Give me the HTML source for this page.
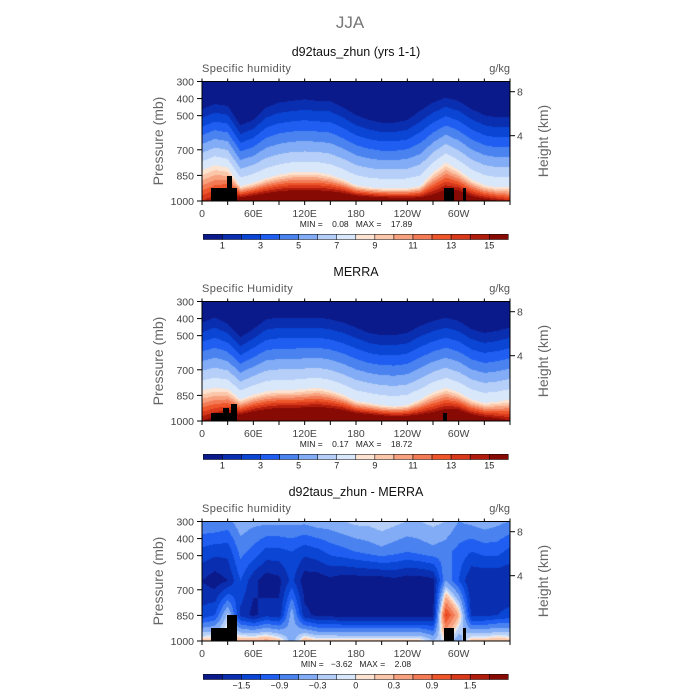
<!DOCTYPE html>
<html><head><meta charset="utf-8"><style>
body{margin:0;background:#fff;width:700px;height:700px;overflow:hidden;position:relative;font-family:"Liberation Sans",sans-serif}
canvas{position:absolute;left:202px;width:308px;height:120px}
svg{position:absolute;left:0;top:0}
</style></head><body>
<canvas id="c0" width="308" height="120" style="top:81px"></canvas>
<canvas id="c1" width="308" height="120" style="top:301px"></canvas>
<canvas id="c2" width="308" height="120" style="top:521px"></canvas>
<svg id="ov" width="700" height="700"></svg>
<script>
// ---- data ----
const lons = [0,15,30,45,60,75,90,105,120,135,150,165,180,195,210,225,240,255,270,285,300,315,330,345,360];
// Panel 1 (model): pressure of 1 g/kg contour, pressure of 8 g/kg contour, surface value
const m_p1 = [465,435,446,559,528,455,426,417,407,417,417,455,500,528,544,544,528,475,426,397,417,465,500,513,513];
const m_p8 = [822,792,808,916,897,869,849,835,835,835,849,876,910,922,928,928,928,916,835,777,822,876,910,922,922];
const m_qs = [14,15,16,17,18,18.5,19,19,19,19,19,19,18.5,18,17.5,17,17,17,17,18,18.5,17,16,15,14];
// Panel 2 (MERRA)
const r_p1 = [426,397,435,513,465,407,397,397,397,397,407,426,455,487,500,500,487,446,417,397,417,465,487,475,455];
const r_p8 = [822,808,815,876,849,829,822,822,815,808,822,849,885,897,910,916,910,876,835,808,835,876,897,890,876];
const r_qs = [15,16,17,18,19,19.5,20,20,20,20,20,20,19.5,19,18.5,18,18,18,18,19,19.5,18,17,16,15];
// Panel 3 (difference) values at 300, 480, 650, 850, 1000 mb
const d_top = [-0.6,-0.6,-0.7,-0.4,-0.5,-0.5,-0.5,-0.5,-0.5,-0.4,-0.4,-0.3,-0.2,-0.2,-0.1,-0.2,-0.3,-0.3,-0.2,-0.3,-0.6,-0.5,-0.4,-0.5,-0.6];
const d_up  = [-1.3,-1.4,-1.4,-0.8,-1.0,-1.3,-1.3,-1.2,-1.4,-1.3,-1.1,-1.0,-0.9,-0.8,-0.7,-0.8,-0.9,-0.8,-0.7,-0.8,-1.0,-1.2,-1.1,-1.1,-1.3];
const d_mid = [-1.8,-2.0,-1.8,-1.2,-1.7,-2.0,-1.9,-1.4,-2.0,-2.0,-1.9,-2.0,-2.0,-2.0,-2.0,-1.9,-2.0,-2.0,-1.9,-0.6,-1.2,-1.8,-1.8,-1.8,-1.8];
const d_low = [-1.4,-1.2,-0.2,-1.6,-1.9,-1.6,-1.7,-0.4,-1.7,-1.9,-1.9,-2.0,-2.0,-2.0,-2.0,-2.0,-2.0,-2.0,-1.9,1.3,0.3,-1.6,-1.6,-1.5,-1.4];
const d_srf = [0.2,0.2,0.3,0.3,0.3,0.4,0.2,-0.5,0.3,0.1,0.1,0.1,0.1,0.1,0.1,0.1,0.1,0.1,-0.3,0.0,-0.5,0.2,0.2,0.3,0.2];
const levelsQ = [0,1,2,3,4,5,6,7,8,9,10,11,12,13,14,15,16];
const levelsD = [-2.1,-1.8,-1.5,-1.2,-0.9,-0.6,-0.3,-0.1,0,0.1,0.3,0.6,0.9,1.2,1.5,1.8,2.1];
const labelsQ = ["1","3","5","7","9","11","13","15"];
const labelsD = ["\u22121.5","\u22120.9","\u22120.3","0","0.3","0.9","1.5"];
const presTicks = [300,400,500,700,850,1000];
const lonLabels = ["0","60E","120E","180","120W","60W"];
const palette = ["#0b1a8a","#0a2eb0","#0a45d4","#1f5ef0","#4a82f0","#82acf5","#b6cff8","#d9e7fb","#fde4d2","#fbc7aa","#f7a17f","#f27b55","#ee552b","#d8391a","#b01d0c","#880a05"];

const H=119.5;
function lerpArr(a,lon){const f=lon/15,i=Math.min(23,Math.floor(f)),t=f-i;return a[i]*(1-t)+a[i+1]*t;}
const yToP=y=>300+y/H*700;
const pToY=p=>(p-300)/700*H;
function colIdx(v,lev){let k=0;for(let i=1;i<16;i++)if(v>=lev[i])k=i;return k;}
function qField(p1a,p8a,qsa,lon,p){
  const p1=lerpArr(p1a,lon),p8=lerpArr(p8a,lon),qs=lerpArr(qsa,lon);
  if(p<=p1) return 0.5+0.5*(p-300)/Math.max(1,p1-300);
  if(p<=p8) return 1+7*(p-p1)/(p8-p1);
  return 8+(qs-8)*(p-p8)/(1000-p8);
}
function dField(lon,p){
  const a=[lerpArr(d_top,lon),lerpArr(d_up,lon),lerpArr(d_mid,lon),lerpArr(d_low,lon),lerpArr(d_srf,lon)];
  const ps=[300,480,650,850,1000];
  for(let i=0;i<4;i++){if(p<=ps[i+1]){const t=(p-ps[i])/(ps[i+1]-ps[i]);return a[i]*(1-t)+a[i+1]*t;}}
  return a[4];
}
function draw(id,fn,lev){
  const ctx=document.getElementById(id).getContext('2d');
  for(let x=0;x<308;x++){const lon=(x+0.5)/308*360;
    for(let y=0;y<120;y++){const p=yToP(Math.min(H,y+0.5));
      ctx.fillStyle=palette[colIdx(fn(lon,p),lev)];ctx.fillRect(x,y,1,1);}}
}
draw('c0',(l,p)=>qField(m_p1,m_p8,m_qs,l,p),levelsQ);
draw('c1',(l,p)=>qField(r_p1,r_p8,r_qs,l,p),levelsQ);
draw('c2',dField,levelsD);

// ---- overlay ----
const NS="http://www.w3.org/2000/svg",ov=document.getElementById('ov');
function el(tag,at,txt){const e=document.createElementNS(NS,tag);for(const k in at)e.setAttribute(k,at[k]);if(txt!=null)e.textContent=txt;ov.appendChild(e);return e;}
const x0=202,W=308;
const lonX=l=>x0+l/360*W;
let t=el('text',{x:350,y:28,'text-anchor':'middle','font-size':17,fill:'#777'},'JJA');


const titles=["d92taus_zhun (yrs 1-1)","MERRA","d92taus_zhun - MERRA"];
const subs=["Specific humidity","Specific Humidity","Specific humidity"];
const mm=["MIN =    0.08   MAX =    17.89","MIN =    0.17   MAX =    18.72","MIN =   \u22123.62   MAX =    2.08"];
const topo=[
 [[211,188,26,13],[227,176,5,13],[444,188,10,13],[463,188,3,13]],
 [[211,193,26,8],[223,188,6,6],[231,184,6,10],[443,193,4,8]],
 [[211,188,21,13],[227,175,10,26],[444,188,10,13],[463,188,3,13]]];
for(let k=0;k<3;k++){
  const oy=k*220,top=81.5+oy,bot=201+oy;
  t=el('text',{x:356,y:56+oy,'text-anchor':'middle','font-size':12.5,fill:'#111'},titles[k]);
  
  
  t=el('text',{x:202,y:72+oy,'font-size':11,fill:'#555','letter-spacing':'0.4'},subs[k]);
  
  
  t=el('text',{x:510,y:72+oy,'text-anchor':'end','font-size':11,fill:'#555'},'g/kg');
  
  
  for(const r of topo[k]){t=el('rect',{x:r[0],y:r[1]+oy,width:r[2],height:r[3],fill:'#000'});
    
    }
  t=el('rect',{x:x0,y:top,width:W,height:119.5,fill:'none',stroke:'#000','stroke-width':1});
  
  
  for(let i=0;i<presTicks.length;i++){const y=top+pToY(presTicks[i]);
    el('line',{x1:x0-5,x2:x0,y1:y,y2:y,stroke:'#000'});
    t=el('text',{x:x0-8,y:y+4,'text-anchor':'end','font-size':10.5,fill:'#444'},presTicks[i]);
    
    }
  for(let l=0;l<=360;l+=30){const x=lonX(l);
    el('line',{x1:x,x2:x,y1:bot,y2:bot+4,stroke:'#000'});
    el('line',{x1:x,x2:x,y1:top-3,y2:top,stroke:'#000'});}
  for(let i=0;i<lonLabels.length;i++){t=el('text',{x:lonX(i*60),y:bot+16,'text-anchor':'middle','font-size':10.5,fill:'#444'},lonLabels[i]);
    
    }
  for(const [h,y] of [["8",91.7],["4",135.7]]){el('line',{x1:510,x2:515,y1:y+oy,y2:y+oy,stroke:'#000'});
    t=el('text',{x:517,y:y+oy+4,'font-size':10.5,fill:'#444'},h);
    
    }
  t=el('text',{x:163,y:141+oy,'text-anchor':'middle','font-size':14,fill:'#666',transform:`rotate(-90 163 ${141+oy})`},'Pressure (mb)');
  
  
  t=el('text',{x:548,y:141+oy,'text-anchor':'middle','font-size':14,fill:'#666',transform:`rotate(-90 548 ${141+oy})`},'Height (km)');
  
  
  t=el('text',{x:356,y:227+oy,'text-anchor':'middle','font-size':8.5,fill:'#222',style:'white-space:pre'},mm[k]);
  
  
  const cbx=203.3,cbw=305/16,cby=234.3+oy;
  for(let i=0;i<16;i++){t=el('rect',{x:cbx+i*cbw,y:cby,width:cbw,height:5.2,fill:palette[i],stroke:'#000','stroke-width':0.5});
    
    }
  const labs=k<2?labelsQ:labelsD;
  for(let i=0;i<labs.length;i++){const edge=k<2?2*i+1:2*i+2;
    t=el('text',{x:cbx+edge*cbw,y:cby+14,'text-anchor':'middle','font-size':9,fill:'#222'},labs[i]);
    
    }
}
</script>
</body></html>
